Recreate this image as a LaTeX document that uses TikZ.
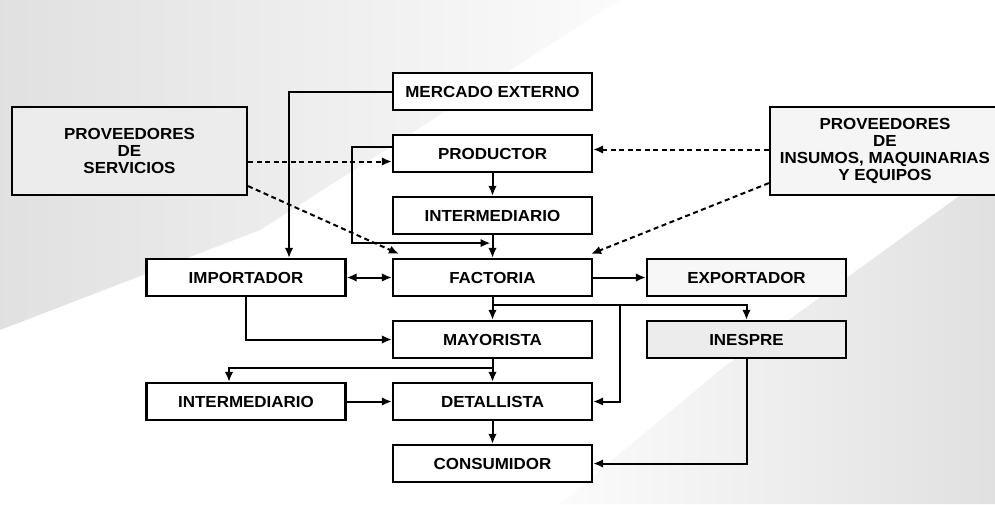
\documentclass[tikz,border=0pt]{standalone}
\usepackage{fontspec}
\setmainfont{Liberation Sans}[FakeStretch=1.06]
\usepackage{tikz}
\usetikzlibrary{arrows,arrows.meta,shapes,positioning,calc}
\tikzset{
  basic/.style    = {draw, line width=2.2pt, font=\fontsize{16}{17}\selectfont\bfseries, rectangle, align=center, inner sep=0pt},
  box/.style      = {basic, fill=white, minimum width=199pt, minimum height=37pt},
  supplier/.style = {basic, fill=gray!15, minimum width=235pt, minimum height=88pt},
  flow/.style     = {->, line width=2pt},
  supply/.style   = {flow, dash pattern=on 5pt off 3.5pt}
}

\begin{document}
\begin{tikzpicture}[x=1pt, y=-1pt, node distance=62pt, >={Latex[length=10pt,width=8.5pt]}]

% page and background
\clip (0,0) rectangle (995,504);
\fill[white] (0,0) rectangle (995,504);
\shade[left color=gray!24, right color=gray!3] (0,0) -- (620,0) -- (260,230) -- (0,330) -- cycle;
\shade[left color=gray!3, right color=gray!24] (995,170) -- (995,504) -- (560,504) -- (720,370) -- cycle;

% main column, relatively positioned nodes
\node[box] (mer) at (492.5,91.5) {MERCADO EXTERNO};
\node[box, below of=mer] (pro) {PRODUCTOR};
\node[box, below of=pro] (int1) {INTERMEDIARIO};
\node[box, below of=int1] (fac) {FACTORIA};
\node[box, below of=fac] (may) {MAYORISTA};
\node[box, below of=may] (det) {DETALLISTA};
\node[box, below of=det] (con) {CONSUMIDOR};

% side boxes
\node[box, left of=fac, node distance=246.5pt] (imp) {IMPORTADOR};
\node[box, right of=fac, node distance=254pt, fill=gray!6] (exp) {EXPORTADOR};
\node[box, below of=exp, fill=gray!15] (ine) {INESPRE};
\node[box, left of=det, node distance=246.5pt] (int2) {INTERMEDIARIO};

% suppliers
\node[supplier] (serv) at (129.5,151) {PROVEEDORES\\DE\\SERVICIOS};
\node[supplier, fill=gray!8, minimum width=230pt] (ins) at (885,151) {PROVEEDORES\\DE\\INSUMOS, MAQUINARIAS\\Y EQUIPOS};

% dashed lines from the suppliers
\coordinate (p1) at ([yshift=-8pt]pro.west);
\coordinate (p2) at ([yshift=4pt]pro.east);
\draw[supply] (serv.east |- p1) -- (p1);
\draw[supply] (ins.west |- p2) -- (p2);
\draw[supply] ([yshift=10pt]serv.south east) -- ([xshift=7pt,yshift=4pt]fac.north west);
\draw[supply] ([yshift=13pt]ins.south west) -- ([xshift=-2pt,yshift=4pt]fac.north east);

% external market to importer
\draw[flow] (mer.west) -| ([xshift=43pt]imp.north);

% main chain, each box to the one below it
\foreach \from/\to in {pro/int1, int1/fac, may/det, det/con}
  \draw[flow] (\from) -- (\to);

% producer straight to the factory
\coordinate (m1) at ([yshift=-8pt]int1.south);
\draw[flow] ([yshift=7pt]pro.west) -- ++(-40,0) |- ([xshift=-2pt]m1);

% factory outputs
\draw[flow, <->] (imp) -- (fac);
\draw[flow] (fac) -- (exp);
\coordinate (f1) at ([yshift=-8pt]fac.south);
\draw[flow] (fac.south) -- (f1) -| (ine.north);
\draw[flow] (f1) -- (may);
\draw[flow] ($(f1 -| fac.east)+(27,0)$) |- (det.east);

% importer to wholesaler
\draw[flow] (imp.south) |- (may.west);

% wholesaler to the lower intermediary
\coordinate (m2) at ([yshift=-9pt]may.south);
\draw[flow] (m2) -| ([xshift=-17pt]int2.north);
\draw[flow] (int2) -- (det);

% inespre to consumer
\draw[flow] (ine.south) |- (con.east);
\end{tikzpicture}
\end{document}
